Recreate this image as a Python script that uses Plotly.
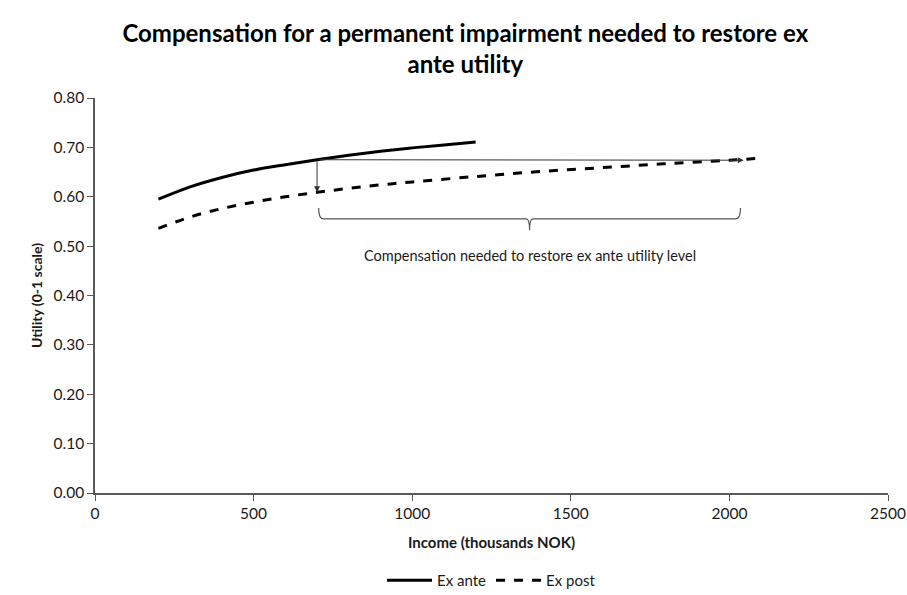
import plotly.graph_objects as go

# Income (thousands NOK) and utility (0-1 scale) for each curve
ex_ante_income = [200, 300, 400, 500, 600, 700, 800, 900, 1000, 1100, 1200]
ex_ante_utility = [0.595, 0.620, 0.639, 0.654, 0.665, 0.675, 0.684, 0.692, 0.699, 0.705, 0.711]

ex_post_income = [200, 300, 400, 500, 600, 700, 800, 900, 1000, 1200, 1400, 1600, 1800, 2000, 2100]
ex_post_utility = [0.536, 0.559, 0.576, 0.589, 0.600, 0.609, 0.617, 0.624, 0.630, 0.641,
                   0.651, 0.659, 0.667, 0.674, 0.678]

# Annotation geometry (income / utility values)
start_income = 700
start_utility = 0.675
impaired_utility = 0.609
restored_income = 2045
bracket_left, bracket_right = 705, 2035

x_ticks = [0, 500, 1000, 1500, 2000, 2500]
y_ticks = [0.0, 0.1, 0.2, 0.3, 0.4, 0.5, 0.6, 0.7, 0.8]

FONT = "Lato, 'Open Sans', sans-serif"
TEXT = "#1a1a1a"
AXIS = "#595959"

fig = go.Figure()
fig.add_trace(go.Scatter(x=ex_ante_income, y=ex_ante_utility, mode="lines", name="Ex ante",
                         line=dict(color="black", width=3, shape="spline")))
fig.add_trace(go.Scatter(x=ex_post_income, y=ex_post_utility, mode="lines", name="Ex post",
                         line=dict(color="black", width=3, dash="dash", shape="spline")))

# Horizontal arrow: income needed on the ex post curve to reach the ex ante level
fig.add_annotation(x=restored_income, y=start_utility - 0.001, ax=start_income, ay=start_utility,
                   xref="x", yref="y", axref="x", ayref="y", text="", showarrow=True,
                   arrowhead=2, arrowsize=1.2, arrowwidth=1, arrowcolor="#333333")
# Vertical arrow: loss of utility from the impairment
fig.add_annotation(x=start_income, y=impaired_utility, ax=start_income, ay=start_utility,
                   xref="x", yref="y", axref="x", ayref="y", text="", showarrow=True,
                   arrowhead=2, arrowsize=1.2, arrowwidth=1, arrowcolor="#333333")

# Curly bracket under the compensation span
mid = (bracket_left + bracket_right) / 2
fig.add_shape(type="path", xref="x", yref="y",
              path=(f"M {bracket_left},0.577 Q {bracket_left},0.555 {bracket_left + 15},0.555 "
                    f"L {mid - 10},0.555 Q {mid},0.555 {mid},0.532 "
                    f"Q {mid},0.555 {mid + 10},0.555 "
                    f"L {bracket_right - 15},0.555 Q {bracket_right},0.555 {bracket_right},0.577"),
              line=dict(color="#555555", width=1.2))

fig.add_annotation(x=mid, y=0.482, xref="x", yref="y",
                   text="Compensation needed to restore ex ante utility level",
                   showarrow=False, font=dict(family=FONT, size=14.5, color=TEXT))

fig.update_layout(
    width=907, height=595,
    margin=dict(l=95, r=19, t=98, b=102, autoexpand=False),
    paper_bgcolor="white", plot_bgcolor="white",
    font=dict(family=FONT, color=TEXT, size=15),
    title=dict(text="<b>Compensation for a permanent impairment needed to restore ex<br>ante utility</b>",
               x=0.513, xanchor="center", y=0.930, yanchor="middle",
               font=dict(family=FONT, size=24, color="black")),
    legend=dict(orientation="h", x=0.5, xanchor="center", y=-0.18, yanchor="top",
                font=dict(family=FONT, size=15, color=TEXT), itemwidth=45),
    showlegend=True,
)
fig.update_xaxes(range=[0, 2500], tickvals=x_ticks, ticktext=[str(v) for v in x_ticks],
                 showgrid=False, zeroline=False, showline=True, linecolor=AXIS, linewidth=1.5,
                 ticks="outside", ticklen=6, tickcolor=AXIS, tickfont=dict(size=15.5),
                 title=dict(text="<b>Income (thousands NOK)</b>", standoff=16,
                            font=dict(family=FONT, size=15, color=TEXT)))
fig.update_yaxes(range=[0, 0.8], tickvals=y_ticks, ticktext=[f"{v:.2f}" for v in y_ticks],
                 showgrid=False, zeroline=False, showline=True, linecolor=AXIS, linewidth=1.5,
                 ticks="outside", ticklen=6, tickcolor=AXIS, tickfont=dict(size=15.5),
                 title=dict(text="<b>Utility (0-1 scale)</b>", standoff=8,
                            font=dict(family=FONT, size=14, color=TEXT)))

fig.write_html("out.html")
